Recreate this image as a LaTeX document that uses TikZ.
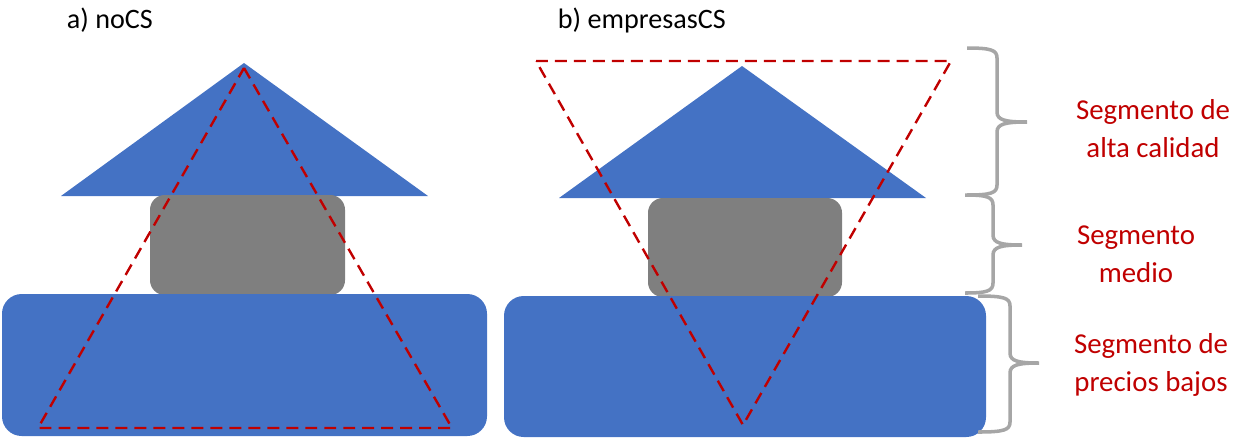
\documentclass[tikz,border=0pt]{standalone}
\usepackage{fontspec}
\setmainfont{Carlito}
\usetikzlibrary{positioning}

\definecolor{segblue}{HTML}{4472C4}
\definecolor{seggray}{HTML}{7F7F7F}
\definecolor{segred}{HTML}{C00000}
\definecolor{bracegray}{HTML}{A6A6A6}

% curly brace: end x, spine x, tip x, top y, tip y, bottom y
\newcommand{\segbrace}[6]{%
  \draw[bracestroke] (#1,#4) .. controls (#2-6,#4) and (#2,#4+2) .. (#2,#4+10)
    -- (#2,#5-10) .. controls (#2,#5-2) and (#2+8,#5) .. (#3,#5)
    .. controls (#2+8,#5) and (#2,#5+2) .. (#2,#5+10)
    -- (#2,#6-10) .. controls (#2,#6-2) and (#2-6,#6) .. (#1,#6);}

\begin{document}
\begin{tikzpicture}[
    x=0.025cm, y=-0.025cm,
    topseg/.style={fill=segblue},
    midseg/.style={fill=seggray, rounded corners=10.5pt},
    lowseg/.style={fill=segblue, rounded corners=14pt},
    share/.style={draw=segred, line width=1.7pt, dash pattern=on 8.5pt off 5pt},
    bracestroke/.style={draw=bracegray, line width=2.5pt},
    paneltitle/.style={anchor=base west, font=\fontsize{20}{24}\selectfont},
    seglabel/.style={align=center, text=segred, font=\fontsize{20.5}{27}\selectfont},
]
\useasboundingbox (0,0) rectangle (1234,437);

% --- Panel (a): noCS ---
\begin{scope}[shift={(0,0)}]
\node[paneltitle] (titleA) at (62,28) {a) noCS};

\fill[topseg] (61,196) -- (244,63) -- (428,196) -- cycle;
\fill[midseg] (150,195) rectangle (345,295);
\fill[lowseg] (2,294) rectangle (487,436);

% market share
\draw[share] (244,68) -- (452,428) -- (38,428) -- cycle;
\end{scope}

% --- Panel (b): empresasCS ---
\begin{scope}[shift={(498,2)}]
\node[paneltitle] (titleB) at (55,26) {b) empresasCS};

\fill[topseg] (61,196) -- (244,64) -- (428,196) -- cycle;
\fill[midseg] (150,196) rectangle (344,295);
\fill[lowseg] (6,294) rectangle (488,435);

% market share (inverted)
\draw[share] (38,59) -- (453,59) -- (245,423) -- cycle;
\end{scope}

% --- Braces and segment labels ---
\segbrace{967}{997}{1027}{48}{122}{195}
\segbrace{965}{993}{1022}{195}{245}{293}
\segbrace{978}{1010}{1039}{296}{363}{432}

\node[seglabel] (altaLbl) at (1153,129) {Segmento de\\alta calidad};
\node[seglabel] (medioLbl) at (1136,254) {Segmento\\medio};
\node[seglabel] (bajosLbl) at (1151,365) {Segmento de\\precios bajos};

\end{tikzpicture}
\end{document}
